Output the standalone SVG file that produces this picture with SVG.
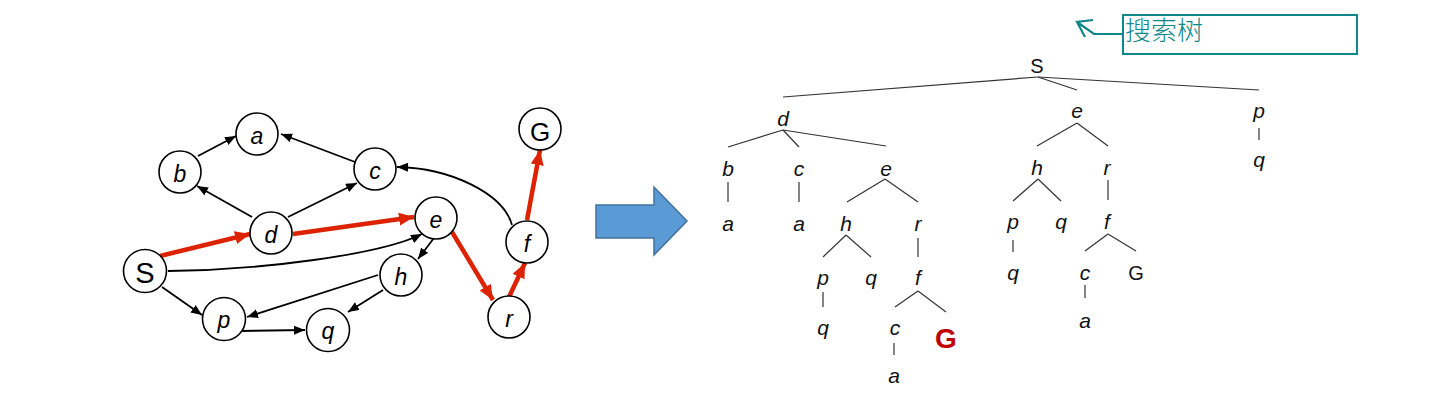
<svg xmlns="http://www.w3.org/2000/svg" width="1429" height="407" viewBox="0 0 1429 407">
<style>
.nd{fill:#fff;stroke:#000;stroke-width:1.6}
.lb{font-family:"Liberation Sans",Arial,sans-serif;font-style:italic;font-size:23px;text-anchor:middle;fill:#000}
.lbu{font-family:"Liberation Sans",Arial,sans-serif;text-anchor:middle;fill:#000}
.ed{fill:none;stroke:#000;stroke-width:1.8}
.red{fill:none;stroke:#dd2200;stroke-width:4.5}
.tl{fill:none;stroke:#333;stroke-width:1.2}
.tt{font-family:"Liberation Sans",Arial,sans-serif;font-style:italic;font-size:21px;text-anchor:middle;fill:#111}
.tu{font-family:"Liberation Sans",Arial,sans-serif;font-size:20px;text-anchor:middle;fill:#111}
</style>
<defs>
<marker id="ab" markerUnits="userSpaceOnUse" markerWidth="12" markerHeight="10" refX="11" refY="4.5" orient="auto"><path d="M0,0 L11,4.5 L0,9 z" fill="#000"/></marker>
<marker id="ar" markerUnits="userSpaceOnUse" markerWidth="16" markerHeight="14" refX="15" refY="6.5" orient="auto"><path d="M0,0 L15,6.5 L0,13 z" fill="#dd2200"/></marker>
</defs>
<rect width="1429" height="407" fill="#fff"/>
<g id="connectors">
<line class="ed" x1="198" y1="156" x2="236" y2="136" marker-end="url(#ab)"/>
<line class="ed" x1="355" y1="162" x2="281" y2="134" marker-end="url(#ab)"/>
<line class="ed" x1="252" y1="217" x2="197" y2="186" marker-end="url(#ab)"/>
<line class="ed" x1="288" y1="217" x2="357" y2="183" marker-end="url(#ab)"/>
<path class="ed" d="M168,271 C260,270 380,255 422,234" marker-end="url(#ab)"/>
<line class="ed" x1="434" y1="238" x2="418" y2="259" marker-end="url(#ab)"/>
<line class="ed" x1="378" y1="275" x2="247" y2="317" marker-end="url(#ab)"/>
<line class="ed" x1="383" y1="290" x2="348" y2="312" marker-end="url(#ab)"/>
<line class="ed" x1="162" y1="287" x2="202" y2="315" marker-end="url(#ab)"/>
<line class="ed" x1="239" y1="331" x2="305" y2="330" marker-end="url(#ab)"/>
<path class="ed" d="M512,225 C503,193 450,168 397,167" marker-end="url(#ab)"/>
<line class="red" x1="160" y1="256" x2="250" y2="234" marker-end="url(#ar)"/>
<line class="red" x1="293" y1="234" x2="414" y2="217" marker-end="url(#ar)"/>
<line class="red" x1="452" y1="232" x2="493" y2="300" marker-end="url(#ar)"/>
<line class="red" x1="509" y1="297" x2="525" y2="263" marker-end="url(#ar)"/>
<line class="red" x1="527" y1="220" x2="540" y2="150" marker-end="url(#ar)"/>
</g>
<g id="node-a"><circle class="nd" cx="257" cy="134" r="21"/><text class="lb" x="257" y="143.5">a</text></g>
<g id="node-b"><circle class="nd" cx="180" cy="172" r="21"/><text class="lb" x="180" y="181.5">b</text></g>
<g id="node-c"><circle class="nd" cx="375" cy="169" r="21"/><text class="lb" x="375" y="178.5">c</text></g>
<g id="node-d"><circle class="nd" cx="271" cy="233" r="21"/><text class="lb" x="271" y="242.5">d</text></g>
<g id="node-e"><circle class="nd" cx="436" cy="218" r="21"/><text class="lb" x="436" y="227.5">e</text></g>
<g id="node-S"><circle class="nd" cx="145" cy="271" r="21.5"/><text class="lbu" x="145" y="283" font-size="29">S</text></g>
<g id="node-h"><circle class="nd" cx="401" cy="275" r="21"/><text class="lb" x="401" y="285">h</text></g>
<g id="node-p"><circle class="nd" cx="224" cy="319" r="21.5"/><text class="lb" x="224" y="328">p</text></g>
<g id="node-q"><circle class="nd" cx="328" cy="330" r="21.5"/><text class="lb" x="328" y="339">q</text></g>
<g id="node-r"><circle class="nd" cx="509" cy="317" r="21"/><text class="lb" x="509" y="326.5">r</text></g>
<g id="node-f"><circle class="nd" cx="527" cy="242" r="21"/><text class="lb" x="527" y="251.5">f</text></g>
<g id="node-G"><circle class="nd" cx="540" cy="129" r="21"/><text class="lbu" x="540" y="140.5" font-size="26">G</text></g>
<g id="big-arrow"><path d="M596,205 H654 V187 L687,221 L654,255 V238 H596 z" fill="#5b9bd5" stroke="#41719c" stroke-width="1.5"/></g>
<g id="tree-edges">
<line class="tl" x1="1038" y1="77" x2="783" y2="97"/>
<line class="tl" x1="1038" y1="77" x2="1077" y2="90"/>
<line class="tl" x1="1038" y1="77" x2="1259" y2="90"/>
<line class="tl" x1="783" y1="130" x2="728" y2="147"/>
<line class="tl" x1="783" y1="130" x2="799" y2="147"/>
<line class="tl" x1="783" y1="130" x2="886" y2="146"/>
<line class="tl" x1="728" y1="182" x2="728" y2="202"/>
<line class="tl" x1="799" y1="182" x2="799" y2="202"/>
<line class="tl" x1="885" y1="179" x2="847" y2="202"/>
<line class="tl" x1="885" y1="179" x2="918" y2="202"/>
<line class="tl" x1="846" y1="235" x2="823" y2="257"/>
<line class="tl" x1="846" y1="235" x2="871" y2="257"/>
<line class="tl" x1="918" y1="238" x2="918" y2="257"/>
<line class="tl" x1="823" y1="292" x2="823" y2="307"/>
<line class="tl" x1="918" y1="291" x2="895" y2="307"/>
<line class="tl" x1="918" y1="291" x2="946" y2="312"/>
<line class="tl" x1="894" y1="343" x2="894" y2="355"/>
<line class="tl" x1="1077" y1="123" x2="1037" y2="146"/>
<line class="tl" x1="1077" y1="123" x2="1108" y2="146"/>
<line class="tl" x1="1038" y1="179" x2="1013" y2="201"/>
<line class="tl" x1="1038" y1="179" x2="1061" y2="201"/>
<line class="tl" x1="1108" y1="180" x2="1108" y2="200"/>
<line class="tl" x1="1013" y1="240" x2="1013" y2="252"/>
<line class="tl" x1="1108" y1="234" x2="1085" y2="251"/>
<line class="tl" x1="1108" y1="234" x2="1136" y2="251"/>
<line class="tl" x1="1085" y1="285" x2="1085" y2="298"/>
<line class="tl" x1="1259" y1="128" x2="1259" y2="140"/>
</g>
<g id="t-S"><text class="tu" x="1037" y="73" font-size="18">S</text></g>
<g id="t-d"><text class="tt" x="783" y="126">d</text></g>
<g id="t-d-b"><text class="tt" x="728" y="176">b</text></g>
<g id="t-d-c"><text class="tt" x="799" y="176">c</text></g>
<g id="t-d-e"><text class="tt" x="886" y="176">e</text></g>
<g id="t-d-b-a"><text class="tt" x="728" y="231">a</text></g>
<g id="t-d-c-a"><text class="tt" x="799" y="231">a</text></g>
<g id="t-d-e-h"><text class="tt" x="846" y="231">h</text></g>
<g id="t-d-e-r"><text class="tt" x="918" y="231">r</text></g>
<g id="t-d-e-h-p"><text class="tt" x="823" y="285">p</text></g>
<g id="t-d-e-h-q"><text class="tt" x="871" y="285">q</text></g>
<g id="t-d-e-r-f"><text class="tt" x="918" y="285">f</text></g>
<g id="t-d-e-h-p-q"><text class="tt" x="823" y="335">q</text></g>
<g id="t-d-e-r-f-c"><text class="tt" x="895" y="335">c</text></g>
<g id="t-d-e-r-f-G"><text x="946" y="348" font-family="Liberation Sans, Arial, sans-serif" font-weight="bold" font-size="28" text-anchor="middle" fill="#c00000">G</text></g>
<g id="t-d-e-r-f-c-a"><text class="tt" x="894" y="383">a</text></g>
<g id="t-e"><text class="tt" x="1077" y="118">e</text></g>
<g id="t-e-h"><text class="tt" x="1037" y="175">h</text></g>
<g id="t-e-r"><text class="tt" x="1107" y="175">r</text></g>
<g id="t-e-h-p"><text class="tt" x="1013" y="229">p</text></g>
<g id="t-e-h-q"><text class="tt" x="1061" y="229">q</text></g>
<g id="t-e-r-f"><text class="tt" x="1107" y="229">f</text></g>
<g id="t-e-h-p-q"><text class="tt" x="1013" y="280">q</text></g>
<g id="t-e-r-f-c"><text class="tt" x="1085" y="280">c</text></g>
<g id="t-e-r-f-G"><text class="tu" x="1136" y="280">G</text></g>
<g id="t-e-r-f-c-a"><text class="tt" x="1085" y="328">a</text></g>
<g id="t-p"><text class="tt" x="1259" y="118">p</text></g>
<g id="t-p-q"><text class="tt" x="1259" y="167">q</text></g>
<g id="callout">
<rect x="1123" y="15" width="234" height="39" fill="#fff" stroke="#10878a" stroke-width="2"/>
<path d="M1123,34 H1094 L1077,22 M1093,20 L1077,22 L1085,37" fill="none" stroke="#10878a" stroke-width="2.2"/>
<text x="1125" y="40" font-family="Noto Sans CJK SC, sans-serif" font-size="26" font-weight="300" fill="#10878a">搜索树</text>
</g>
</svg>
